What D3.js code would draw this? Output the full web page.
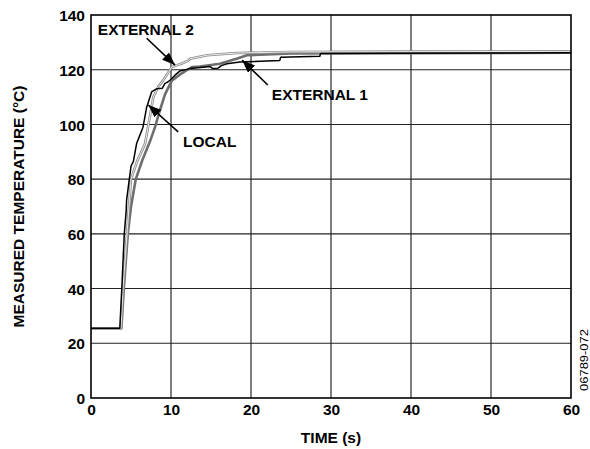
<!DOCTYPE html>
<html><head><meta charset="utf-8">
<script src="https://cdn.jsdelivr.net/npm/d3@7/dist/d3.min.js"></script>
<style>body{margin:0;background:#fff}svg{display:block}text{font-family:"Liberation Sans",Arial,Helvetica,sans-serif;font-weight:bold}</style>
</head><body>
<script>
// ---- data ----
const xTicks = [0, 10, 20, 30, 40, 50, 60];
const yTicks = [0, 20, 40, 60, 80, 100, 120, 140];

const localTime = [0, 3.6, 3.85, 4.16, 4.4, 4.45, 4.79, 5.0, 5.3, 5.7, 6.1, 6.5, 6.96, 7.6, 8.2, 8.9, 9.25, 9.6, 10.0, 10.5, 11.1, 12.4, 14.9, 15.2, 15.8, 16.3, 17.0, 18.6, 23.6, 23.7, 28.6, 28.7, 38, 60];
const localTemp = [25.5, 25.5, 40, 60, 68.5, 72.3, 80, 84.7, 86.5, 93, 96, 99, 106.3, 112, 113, 113.2, 115, 115.5, 116.5, 118, 119.5, 120.4, 121.2, 120.4, 120.4, 121.5, 122.2, 122.8, 123.4, 124.6, 124.9, 125.9, 126, 126.2];

const ext1Time = [0, 3.8, 4.1, 4.6, 5.0, 5.6, 6.4, 7.4, 8.0, 8.6, 9.25, 10.1, 11.3, 12.6, 13.6, 16.1, 18.2, 19.5, 25, 60];
const ext1Temp = [25.5, 25.5, 40, 60, 70, 80, 86.8, 94, 99, 105, 111, 116, 118.6, 121, 121.2, 122.2, 124, 125.3, 125.9, 126.2];

const ext2Time = [0, 3.75, 4.0, 4.3, 4.5, 5.0, 5.8, 6.75, 7.2, 7.8, 8.4, 9.0, 9.7, 10.1, 10.6, 11.3, 12.2, 12.4, 14.5, 18.2, 25, 40, 60];
const ext2Temp = [25.5, 25.5, 40, 52, 60, 80, 86.8, 92.9, 100.2, 110, 113.8, 116, 119.2, 121, 121.5, 122.2, 123.4, 124, 125.3, 126.1, 126.5, 126.6, 126.7];

// annotations: label, text anchor (t, temp), arrow tail (t, temp), arrow head (t, temp)
const annLabels = ["EXTERNAL 2", "EXTERNAL 1", "LOCAL"];
const annText = [[0.85, 132.6], [22.6, 108.9], [11.5, 91.8]];
const annTail = [[6.96, 131.5], [22.1, 114.4], [10.9, 97.3]];
const annHead = [[10.5, 121.7], [18.9, 123.5], [7.16, 107.1]];

// ---- drawing ----
const W = 590, H = 449;
const FS = 15.5;
const svg = d3.select("body").append("svg").attr("width", W).attr("height", H);
const x = d3.scaleLinear().domain([0, 60]).range([91, 571]);
const y = d3.scaleLinear().domain([0, 140]).range([398, 15]);

// grid
svg.append("g").selectAll("line").data(xTicks.slice(1, -1)).join("line")
  .attr("x1", d => x(d)).attr("x2", d => x(d)).attr("y1", y(0)).attr("y2", y(140))
  .attr("stroke", "#111").attr("stroke-width", 1.1);
svg.append("g").selectAll("line").data(yTicks.slice(1, -1)).join("line")
  .attr("x1", x(0)).attr("x2", x(60)).attr("y1", d => y(d)).attr("y2", d => y(d))
  .attr("stroke", "#222").attr("stroke-width", 1.1);

// axes
const xAxis = d3.axisBottom(x).tickValues(xTicks).tickSize(0).tickPadding(6);
const yAxis = d3.axisLeft(y).tickValues(yTicks).tickSize(0).tickPadding(6);
const gx = svg.append("g").attr("transform", `translate(0,${y(0)})`).call(xAxis);
const gy = svg.append("g").attr("transform", `translate(${x(0)},0)`).call(yAxis);
[gx, gy].forEach(g => {
  g.select(".domain").remove();
  g.selectAll("text").attr("font-size", FS).attr("font-weight", "bold").attr("fill", "#000")
   .attr("font-family", '"Liberation Sans",Arial,sans-serif');
});
gy.selectAll("text").attr("dy", "0.36em");

// lines
const line = d3.line().x(d => x(d[0])).y(d => y(d[1]));
const zip = (a, b) => a.map((v, i) => [v, b[i]]);
svg.append("path").datum(zip(ext1Time, ext1Temp)).attr("d", line)
  .attr("fill", "none").attr("stroke", "#6e6e6e").attr("stroke-width", 2.6).attr("stroke-linejoin", "round");
svg.append("path").datum(zip(ext2Time, ext2Temp)).attr("d", line)
  .attr("fill", "none").attr("stroke", "#8c8c8c").attr("stroke-width", 2.6).attr("stroke-linejoin", "round");
svg.append("path").datum(zip(ext2Time, ext2Temp)).attr("d", line)
  .attr("fill", "none").attr("stroke", "#f4f4f4").attr("stroke-width", 0.9).attr("stroke-linejoin", "round");
svg.append("path").datum(zip(localTime, localTemp)).attr("d", line)
  .attr("fill", "none").attr("stroke", "#000").attr("stroke-width", 1.5).attr("stroke-linejoin", "round");

// frame
svg.append("rect").attr("x", x(0)).attr("y", y(140)).attr("width", x(60) - x(0)).attr("height", y(0) - y(140))
  .attr("fill", "none").attr("stroke", "#000").attr("stroke-width", 1.6);

// arrows
svg.append("defs").append("marker").attr("id", "ah").attr("viewBox", "0 0 13 10")
  .attr("refX", 13).attr("refY", 5).attr("markerWidth", 13).attr("markerHeight", 10)
  .attr("markerUnits", "userSpaceOnUse").attr("orient", "auto")
  .append("path").attr("d", "M0,0 L13,5 L0,10 Z").attr("fill", "#000");
annLabels.forEach((lab, i) => {
  svg.append("line").attr("x1", x(annTail[i][0])).attr("y1", y(annTail[i][1]))
    .attr("x2", x(annHead[i][0])).attr("y2", y(annHead[i][1]))
    .attr("stroke", "#000").attr("stroke-width", 1.6).attr("marker-end", "url(#ah)");
  svg.append("text").attr("x", x(annText[i][0])).attr("y", y(annText[i][1]))
    .attr("font-size", FS).text(lab);
});

// axis titles
svg.append("text").attr("x", (x(0) + x(60)) / 2).attr("y", 443).attr("text-anchor", "middle")
  .attr("font-size", FS).text("TIME (s)");
svg.append("text").attr("transform", `translate(24,${(y(0) + y(140)) / 2}) rotate(-90)`)
  .attr("text-anchor", "middle").attr("font-size", FS).text("MEASURED TEMPERATURE (°C)");
svg.append("text").attr("transform", `translate(588,360) rotate(-90)`)
  .attr("text-anchor", "middle").attr("font-size", 10.5).style("font-weight", "normal")
  .attr("textLength", 62).attr("lengthAdjust", "spacingAndGlyphs").text("06789-072");
</script>
</body></html>
